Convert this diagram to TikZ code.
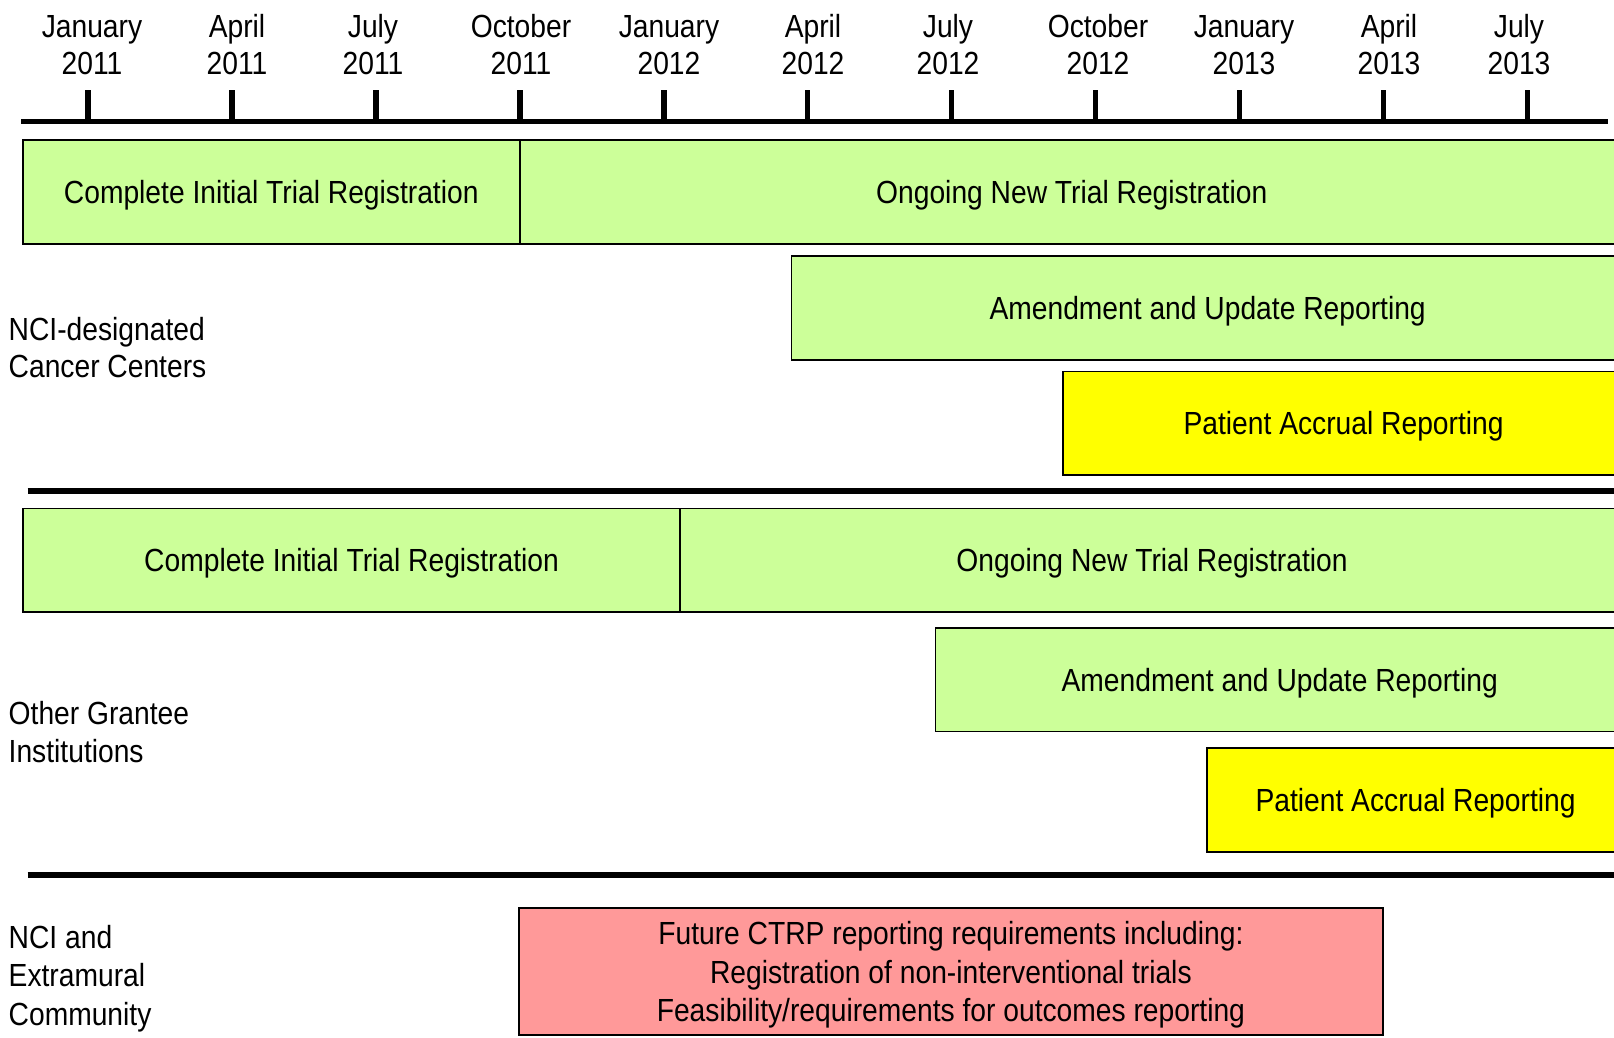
\documentclass[tikz,border=0pt]{standalone}
\usepackage{fontspec}
\setmainfont{Liberation Sans}[FakeStretch=0.882]
\definecolor{boxgreen}{HTML}{CCFF99}
\definecolor{boxyellow}{HTML}{FFFF00}
\definecolor{boxred}{HTML}{FF9999}
\begin{document}
\begin{tikzpicture}[x=1pt,y=-1pt,
  txt/.style={font=\fontsize{32}{38.5}\selectfont, inner sep=0pt},
  lab/.style={txt, anchor=base},
  lablft/.style={txt, anchor=base west},
  bar/.style={txt, draw=black, line width=1.8pt, anchor=north west, minimum height=103.5pt, text depth=0pt},
  greenbar/.style={bar, fill=boxgreen},
  yellowbar/.style={bar, fill=boxyellow},
  redbar/.style={bar, fill=boxred, align=center, minimum height=127.6pt},
  thick rule/.style={line width=5.5pt, black},
]
\useasboundingbox (0,0) rectangle (1614,1038);
\fill[white] (0,0) rectangle (1614,1038);
\clip (0,0) rectangle (1614,1038);

% time axis
\coordinate (axL) at (21,121.5);
\coordinate (axR) at (1608,121.5);
\draw[thick rule] (axL) -- (axR);
\foreach \i in {0,...,10}{
  \draw[thick rule] ({88+143.94*\i},90.5) -- ({88+143.94*\i},121.5);
}
\foreach \i/\cx/\m/\yr in {0/92/January/2011, 1/237/April/2011, 2/373/July/2011, 3/521/October/2011,
  4/669/January/2012, 5/813/April/2012, 6/948/July/2012, 7/1098/October/2012,
  8/1244/January/2013, 9/1389/April/2013, 10/1519/July/2013}{
  \node[lab] (mon\i) at (\cx,37.5) {\m};
  \node[lab] (yr\i) at (\cx,75) {\yr};
}

% NCI-designated Cancer Centers
\node[greenbar, minimum width=496.7pt] (ciA) at (22,139.5) {Complete Initial Trial Registration};
\node[greenbar, minimum width=1104.3pt] (onA) at (518.7,139.5) {Ongoing New Trial Registration};
\node[greenbar, minimum width=832.5pt] (amA) at (790.5,255.3) {Amendment and Update Reporting};
\node[yellowbar, minimum width=560.6pt] (paA) at (1062.4,370.5) {Patient Accrual Reporting};
\node[lablft] (ncc1) at (8.5,340.5) {NCI-designated};
\node[lablft] (ncc2) at (8.5,377.5) {Cancer Centers};

\coordinate (s1L) at (27.6,491);
\coordinate (s1R) at (1620,491);
\draw[thick rule] (s1L) -- (s1R);

% Other Grantee Institutions
\node[greenbar, minimum width=657.3pt] (ciB) at (22,507.5) {Complete Initial Trial Registration};
\node[greenbar, minimum width=943.7pt] (onB) at (679.3,507.5) {Ongoing New Trial Registration};
\node[greenbar, minimum width=688.4pt] (amB) at (934.6,627) {Amendment and Update Reporting};
\node[yellowbar, minimum width=416.7pt] (paB) at (1206.3,747.3) {Patient Accrual Reporting};
\node[lablft] (ogi1) at (8.5,724.8) {Other Grantee};
\node[lablft] (ogi2) at (8.5,762.8) {Institutions};

\coordinate (s2L) at (27.6,874.8);
\coordinate (s2R) at (1620,874.8);
\draw[thick rule] (s2L) -- (s2R);

% NCI and Extramural Community
\node[redbar, minimum width=863.4pt] (fut) at (518.3,906.7)
  {Future CTRP reporting requirements including:\\Registration of non-interventional trials\\Feasibility/requirements for outcomes reporting};
\node[lablft] (nec1) at (8.5,948.5) {NCI and};
\node[lablft] (nec2) at (8.5,986.8) {Extramural};
\node[lablft] (nec3) at (8.5,1025.1) {Community};
\end{tikzpicture}
\end{document}
